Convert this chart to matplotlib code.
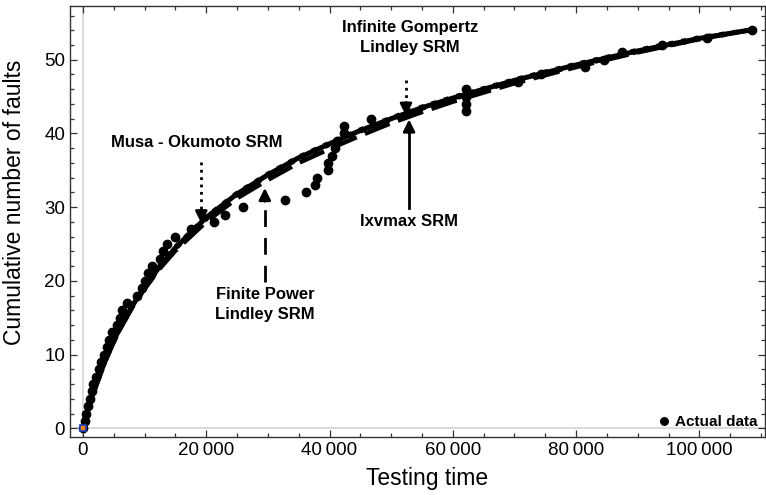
import numpy as np
import matplotlib.pyplot as plt
from matplotlib.ticker import MultipleLocator, FuncFormatter

# actual data: testing time vs cumulative number of faults
t_data = [0, 300, 500, 800, 1100, 1400, 1700, 2100, 2600, 3000, 3400,
          3900, 4200, 4700, 5600, 6000, 6400, 7100, 8700, 9500, 10100,
          10600, 11200, 12500, 13000, 13700, 15000, 17600, 21200, 23000,
          26000, 32800, 36200, 37700, 37900, 39700, 39800, 40400, 40900,
          41200, 42300, 42400, 46800, 62200, 62200, 62200, 62200, 70500,
          74300, 81400, 84600, 87500, 94000, 101200, 108500]
faults = list(range(0, 55))

# model curves
t_model = [0, 500, 1000, 2000, 3000, 4000, 5000, 6000, 8000, 10000, 12500,
           15000, 20000, 25000, 30000, 35000, 40000, 45000, 50000, 55000,
           60000, 70000, 80000, 90000, 100000, 108000]
ixvmax = [0, 1.6, 3.1, 5.6, 7.9, 10.0, 11.9, 13.6, 16.6, 19.2, 22.0, 24.5,
          28.6, 31.8, 34.4, 36.7, 38.6, 40.4, 42.0, 43.5, 44.8, 47.2, 49.3,
          51.2, 52.9, 54.0]
fpl = [0, 1.5, 3.0, 5.4, 7.7, 9.8, 11.7, 13.4, 16.4, 18.9, 21.7, 24.1,
       28.0, 31.2, 33.7, 36.0, 37.9, 39.7, 41.4, 42.9, 44.3, 46.8, 49.0,
       51.0, 52.8, 54.0]
musa = [0, 1.6, 3.1, 5.6, 7.9, 9.9, 11.8, 13.5, 16.5, 19.1, 21.9, 24.4,
        28.4, 31.7, 34.3, 36.6, 38.5, 40.3, 41.9, 43.4, 44.7, 47.1, 49.2,
        51.1, 52.8, 54.0]
igl = [0, 1.6, 3.2, 5.7, 8.0, 10.1, 12.0, 13.7, 16.7, 19.3, 22.1, 24.6,
       28.7, 31.9, 34.5, 36.8, 38.7, 40.5, 42.1, 43.6, 44.9, 47.3, 49.4,
       51.3, 53.0, 54.0]

plt.rcParams['font.family'] = ['Liberation Sans', 'DejaVu Sans']

fig = plt.figure(figsize=(7.66, 4.95), dpi=100)
ax = fig.add_axes([0.0914, 0.117, 0.907, 0.871])

ax.axhline(0, color='#d8d8d8', lw=1.3, zorder=0)
ax.axvline(0, color='#d8d8d8', lw=1.3, zorder=0)

ax.plot(t_model, musa, color='black', lw=3.5, ls=':', zorder=2)
ax.plot(t_model, igl, color='black', lw=3.5, ls=':', zorder=2)
ax.plot(t_model, fpl, color='black', lw=3.2, dashes=(6, 2), zorder=2)
ax.plot(t_model, ixvmax, color='black', lw=3.6, zorder=3)
ax.plot(t_data, faults, 'o', color='black', ms=6, zorder=4, label='Actual data')
ax.plot([0], [0], 's', ms=5, mfc='#f07f10', mec='#2040c0', mew=1.2, zorder=5)


def arrow(x, y0, y1, ls):
    ax.plot([x, x], [y0, y1 + (0.6 if y1 < y0 else -0.6)], color='black',
            lw=2, ls=ls, zorder=6)
    ax.annotate('', xy=(x, y1), xytext=(x, y1 + (1.8 if y1 < y0 else -1.8)),
                arrowprops=dict(arrowstyle='-|>,head_length=0.7,head_width=0.35',
                                color='black', lw=2, shrinkA=0, shrinkB=0),
                zorder=7)


bold = dict(fontsize=12, fontweight='bold', ha='center', va='center',
            linespacing=1.45)
ax.text(18500, 38.8, 'Musa - Okumoto SRM', **bold)
arrow(19200, 36.1, 27.8, ':')
ax.text(53100, 53.0, 'Infinite Gompertz\nLindley SRM', **bold)
arrow(52400, 47.2, 42.4, ':')
ax.text(29500, 16.8, 'Finite Power\nLindley SRM', **bold)
arrow(29500, 19.8, 32.6, (0, (6, 4)))
ax.text(52900, 28.1, 'Ixvmax SRM', **bold)
arrow(52900, 29.9, 41.9, '-')

ax.set_xlim(-2100, 110600)
ax.set_ylim(-1.2, 57.3)
ax.xaxis.set_major_locator(MultipleLocator(20000))
ax.xaxis.set_minor_locator(MultipleLocator(5000))
ax.yaxis.set_major_locator(MultipleLocator(10))
ax.yaxis.set_minor_locator(MultipleLocator(2))
ax.xaxis.set_major_formatter(FuncFormatter(
    lambda v, p: '0' if v == 0 else f'{int(v) // 1000}\u2009000'))
ax.tick_params(which='both', direction='in', top=True, right=True,
               color='#333333', labelsize=13.5, width=0.9)
ax.tick_params(which='major', length=5)
ax.tick_params(which='minor', length=3)
for s in ax.spines.values():
    s.set_color('#333333')
    s.set_linewidth(1.0)

ax.set_xlabel('Testing time', fontsize=16.5)
ax.set_ylabel('Cumulative number of faults', fontsize=16.5)
ax.xaxis.set_label_coords(0.514, -0.07)
ax.yaxis.set_label_coords(-0.064, 0.545)

leg = ax.legend(loc='lower right', frameon=False, handletextpad=0.2,
                borderaxespad=0.1, handlelength=1.0, markerscale=0.9,
                prop=dict(weight='bold', size=11))

fig.savefig('out.png', dpi=100)
